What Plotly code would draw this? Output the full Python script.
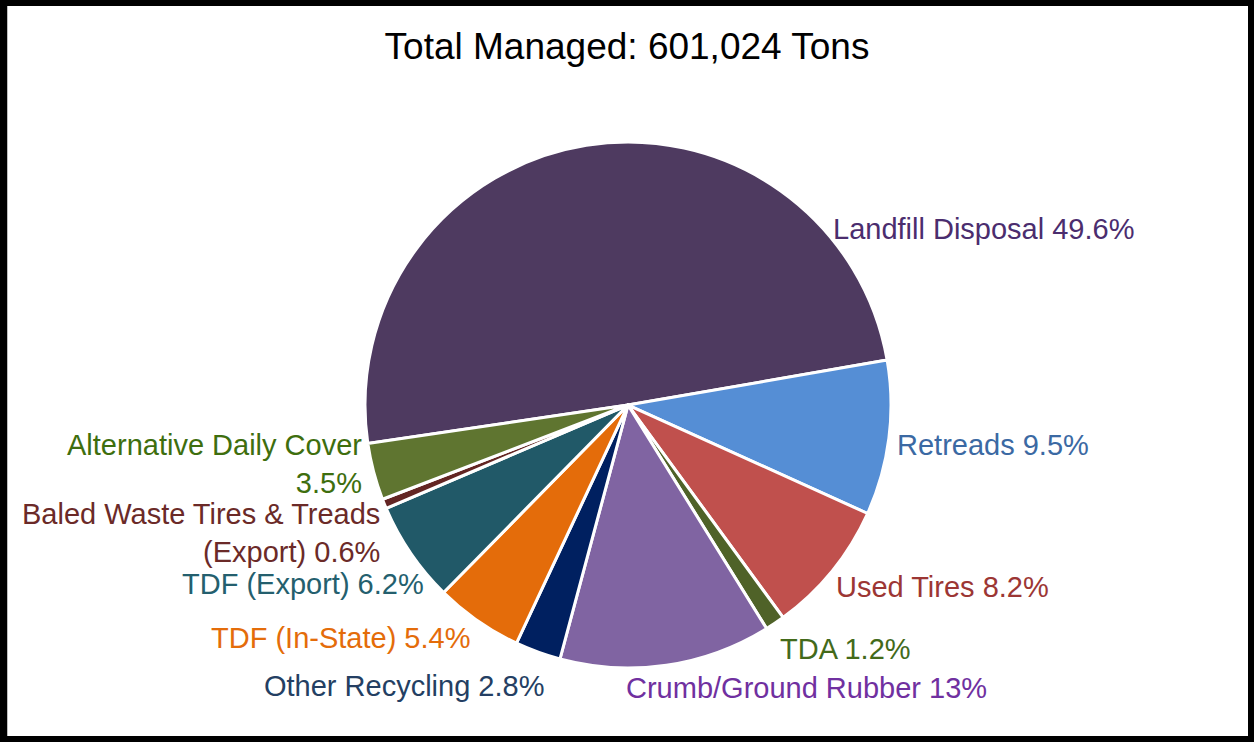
import math
import plotly.graph_objects as go

categories = [
    "Landfill Disposal", "Retreads", "Used Tires", "TDA", "Crumb/Ground Rubber",
    "Other Recycling", "TDF (In-State)", "TDF (Export)",
    "Baled Waste Tires & Treads (Export)", "Alternative Daily Cover",
]
label_text = [
    "Landfill Disposal", "Retreads", "Used Tires", "TDA", "Crumb/Ground Rubber",
    "Other Recycling", "TDF (In-State)", "TDF (Export)",
    "Baled Waste Tires & Treads<br>(Export)", "Alternative Daily Cover<br>",
]
percents = [49.6, 9.5, 8.2, 1.2, 13.0, 2.8, 5.4, 6.2, 0.6, 3.5]
slice_colors = ["#4E3A60", "#558ED5", "#C0504D", "#4F6228", "#8064A2",
                "#002060", "#E46C0A", "#215968", "#632523", "#5F7530"]
label_colors = ["#4B2D6E", "#3B69A3", "#9C3634", "#436A1A", "#7030A0",
                "#243F63", "#E46C0A", "#245F6E", "#6B2A28", "#3E6E0E"]

# ---- layout settings ----
W, H = 1254, 742
DOM_X = [0.2, 0.8016]
DOM_Y = [0.0997, 0.8086]
ROTATION = -98.4          # start angle of first slice (clockwise from 12 o'clock)
LABEL_GAP = 6             # px between pie edge and labels
FONT = "Liberation Sans, Arial"
# label placement tweaks (mimic the original's label layout), in px
label_angle_override = {"Landfill Disposal": 49.0}
label_nudge = {
    "Retreads": (0, 6),
    "Used Tires": (-3, -6),
    "TDA": (0, 3),
    "Crumb/Ground Rubber": (-43, -1),
    "Other Recycling": (10, 10),
    "TDF (In-State)": (-2, -6),
    "TDF (Export)": (20, 9),
    "Baled Waste Tires & Treads (Export)": (3, -10),
    "Alternative Daily Cover": (-4, -9),
}

fig = go.Figure(go.Pie(
    labels=categories,
    values=percents,
    textinfo="none",
    sort=False,
    direction="clockwise",
    rotation=ROTATION,
    marker=dict(colors=slice_colors, line=dict(color="white", width=3)),
    domain=dict(x=DOM_X, y=DOM_Y),
    showlegend=False,
    hoverinfo="label+percent",
))

# pie geometry (same as plotly's: radius = half the smaller domain side)
cx = (DOM_X[0] + DOM_X[1]) / 2 * W
cy = (1 - (DOM_Y[0] + DOM_Y[1]) / 2) * H
r = min((DOM_X[1] - DOM_X[0]) * W, (DOM_Y[1] - DOM_Y[0]) * H) / 2
R = r + LABEL_GAP

annotations = []
total = sum(percents)
start = ROTATION
for cat, txt, p, col in zip(categories, label_text, percents, label_colors):
    span = p / total * 360
    mid = start + span / 2
    start += span
    ang = label_angle_override.get(cat, mid)
    s, c = math.sin(math.radians(ang)), math.cos(math.radians(ang))
    px, py = cx + R * s, cy - R * c
    dx, dy = label_nudge.get(cat, (0, 0))
    px += dx
    py += dy
    if cat in label_angle_override or abs(c) < 0.34:
        yanchor = "middle"
    else:
        yanchor = "top" if c < 0 else "bottom"
    xanchor = "left" if s > 0 else "right"
    sep = "" if txt.endswith("<br>") else " "
    annotations.append(dict(
        x=px / W, y=1 - py / H, xref="paper", yref="paper",
        text=f"{txt}{sep}{p:g}%", showarrow=False,
        xanchor=xanchor, yanchor=yanchor, align=xanchor,
        font=dict(family=FONT, size=29, color=col),
    ))

fig.update_layout(
    width=W, height=H,
    margin=dict(l=0, r=0, t=0, b=0, pad=0, autoexpand=False),
    paper_bgcolor="white",
    title=dict(text="Total Managed: 601,024 Tons", x=0.5, xanchor="center",
               y=0.938, yanchor="middle", yref="container",
               font=dict(family=FONT, size=37, color="black")),
    annotations=annotations,
    shapes=[dict(type="rect", xref="paper", yref="paper", x0=0.001, y0=0, x1=1, y1=1,
                 line=dict(color="black", width=12), fillcolor="rgba(0,0,0,0)")],
)

fig.write_html("out.html")
